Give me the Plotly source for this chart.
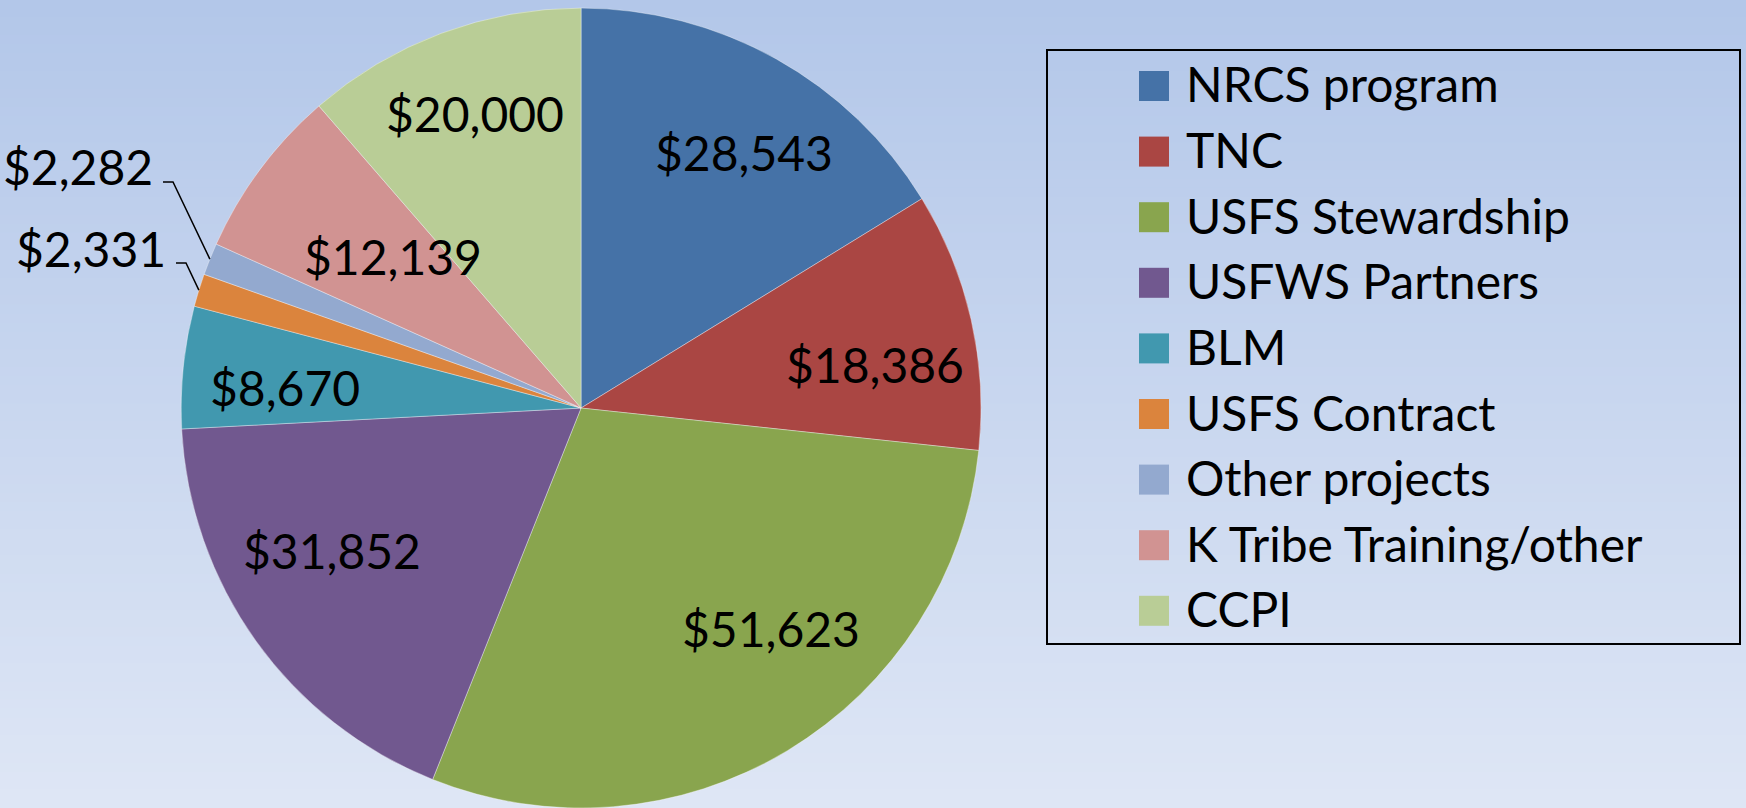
import math
import plotly.graph_objects as go

# ---------------- data ----------------
labels = ["NRCS program", "TNC", "USFS Stewardship", "USFWS Partners", "BLM",
          "USFS Contract", "Other projects", "K Tribe Training/other", "CCPI"]
values = [28543, 18386, 51623, 31852, 8670, 2331, 2282, 12139, 20000]
value_text = ["$" + f"{v:,}" for v in values]

# ---------------- style ----------------
colors = ["#4572A7", "#AA4643", "#89A54E", "#71588F", "#4198AF",
          "#DB843D", "#93A9CF", "#D19392", "#B9CD96"]
FONT = "Lato, 'Open Sans', sans-serif"
LABEL_SIZE = 48
LEGEND_SIZE = 48

W, H = 1746, 808
dom_x = [0.1037, 0.5619]
dom_y = [0.0, 0.99]

# inside-label placement (radius fraction, angle offset in degrees)
inside_place = {0: (0.758, 3.2), 1: (0.743, 4.4), 2: (0.728, -9.7), 3: (0.718, 5.8),
                4: (0.743, -2.0), 7: (0.603, 2.2), 8: (0.783, 0.6)}
# outside labels: right end of text (pixels)
outside_place = {5: (168, 248), 6: (155, 167)}

# ---------------- geometry (same rules plotly uses for the pie) ----------------
r = min(W * (dom_x[1] - dom_x[0]), H * (dom_y[1] - dom_y[0])) / 2
cx = W * (dom_x[0] + dom_x[1]) / 2
cy = H * (1 - (dom_y[0] + dom_y[1]) / 2)
total = sum(values)
mids = []
acc = 0
for v in values:
    mids.append((acc + v / 2) / total * 360)
    acc += v


def to_paper(px, py):
    return px / W, 1 - py / H


def polar(frac, ang):
    a = math.radians(ang)
    return cx + frac * r * math.sin(a), cy - frac * r * math.cos(a)


fig = go.Figure()
fig.add_trace(go.Pie(
    labels=labels, values=values, sort=False, direction="clockwise", rotation=0,
    marker=dict(colors=colors, line=dict(width=0.6, color="rgba(255,255,255,0.6)")),
    textinfo="none", hoverinfo="label+value", showlegend=False,
    domain=dict(x=dom_x, y=dom_y),
))

shapes = []
annotations = []

# background gradient
top = (179, 199, 233)
bot = (222, 230, 245)
N = 90
for i in range(N):
    t = i / (N - 1)
    c = tuple(round(top[k] + (bot[k] - top[k]) * t) for k in range(3))
    shapes.append(dict(type="rect", xref="paper", yref="paper", x0=0, x1=1,
                       y0=1 - (i + 1) / N - 0.001, y1=1 - i / N + 0.001,
                       fillcolor="rgb(%d,%d,%d)" % c, line=dict(width=0), layer="below"))

# inside labels
for i, (frac, off) in inside_place.items():
    px, py = polar(frac, mids[i] + off)
    x, y = to_paper(px, py)
    annotations.append(dict(x=x, y=y, xref="paper", yref="paper", text=value_text[i],
                            showarrow=False, xanchor="center", yanchor="middle",
                            font=dict(family=FONT, size=LABEL_SIZE, color="black")))

# outside labels with leader lines
for i, (tx, ty) in outside_place.items():
    x, y = to_paper(tx, ty)
    annotations.append(dict(x=x, y=y, xref="paper", yref="paper", text=value_text[i],
                            showarrow=False, xanchor="right", yanchor="middle",
                            font=dict(family=FONT, size=LABEL_SIZE, color="black")))
    ex, ey = polar(1.0, mids[i])
    p0 = to_paper(tx + 8, ty + 15)
    p1 = to_paper(tx + 18, ty + 15)
    p2 = to_paper(ex, ey)
    shapes.append(dict(type="path", xref="paper", yref="paper",
                       path="M %f,%f L %f,%f L %f,%f" % (p0[0], p0[1], p1[0], p1[1], p2[0], p2[1]),
                       line=dict(color="black", width=1.5)))

# legend box
lx0, ly0, lx1, ly1 = 1047, 50, 1740, 644
a0 = to_paper(lx0, ly0)
a1 = to_paper(lx1, ly1)
shapes.append(dict(type="rect", xref="paper", yref="paper", x0=a0[0], y0=a0[1], x1=a1[0], y1=a1[1],
                   line=dict(color="black", width=2), fillcolor="rgba(0,0,0,0)"))
row0, step = 86, 65.6
for i, lab in enumerate(labels):
    yc = row0 + i * step
    m0 = to_paper(1139, yc - 15)
    m1 = to_paper(1169, yc + 15)
    shapes.append(dict(type="rect", xref="paper", yref="paper", x0=m0[0], y0=m0[1], x1=m1[0], y1=m1[1],
                       fillcolor=colors[i], line=dict(width=0)))
    tx, ty = to_paper(1184, yc - 2)
    annotations.append(dict(x=tx, y=ty, xref="paper", yref="paper", text=lab, showarrow=False,
                            xanchor="left", yanchor="middle",
                            font=dict(family=FONT, size=LEGEND_SIZE, color="black")))

fig.update_layout(
    width=W, height=H, margin=dict(l=0, r=0, t=0, b=0),
    paper_bgcolor="rgb(200,213,238)", plot_bgcolor="rgba(0,0,0,0)",
    shapes=shapes, annotations=annotations, showlegend=False,
    font=dict(family=FONT),
)
fig.write_html("out.html", config={"displayModeBar": False},
               post_script="document.body.style.margin='0';document.body.style.padding='0';"
                           "document.documentElement.style.overflow='hidden';")
